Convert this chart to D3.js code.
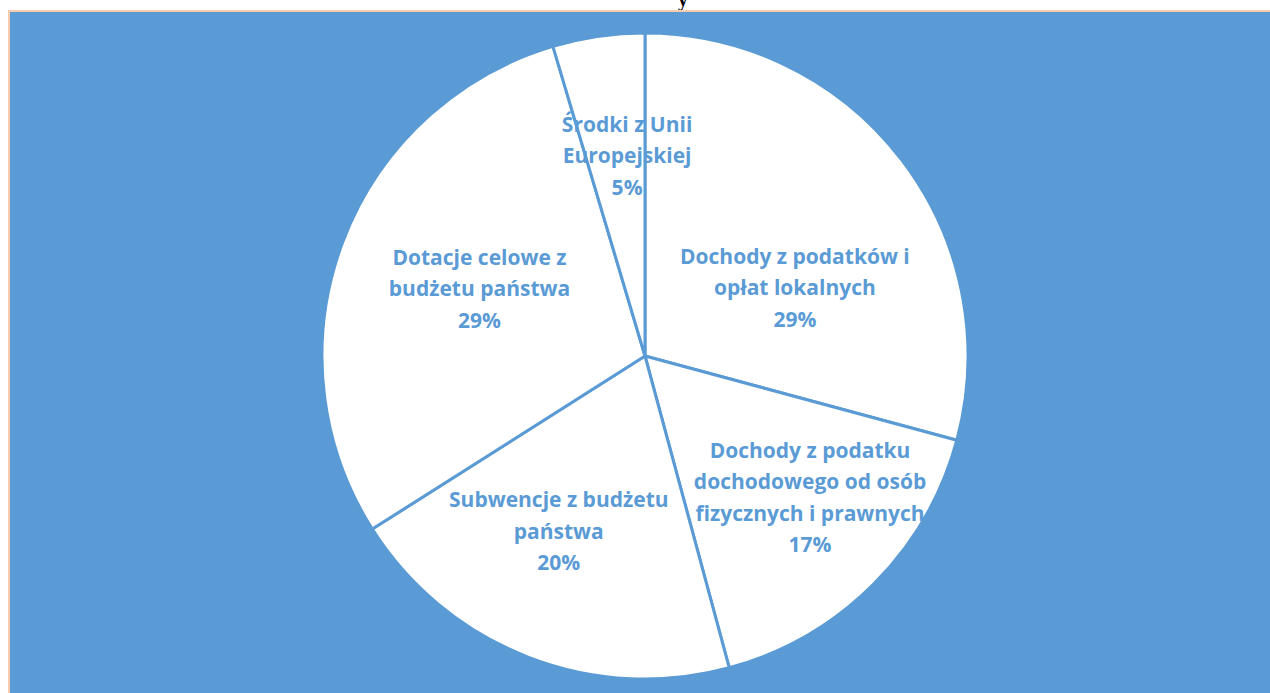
<!DOCTYPE html>
<html>
<head>
<meta charset="utf-8">
<script src="https://cdn.jsdelivr.net/npm/d3@7"></script>
<style>
  body { margin: 0; background: #fff; overflow: hidden; }
</style>
</head>
<body>
<svg width="1270" height="693"></svg>
<script>
// slices clockwise from 12 o'clock
var categories = [
  "Dochody z podatków i|opłat lokalnych",
  "Dochody z podatku|dochodowego od osób|fizycznych i prawnych",
  "Subwencje z budżetu|państwa",
  "Dotacje celowe z|budżetu państwa",
  "Środki z Unii|Europejskiej"
];
var values = [29.2, 16.6, 20.2, 29.4, 4.6];
var percentLabels = ["29%", "17%", "20%", "29%", "5%"];

// label nudges (px) from the arc centroid, like Excel's best fit
var nudges = [[-4, 50], [28, 5], [-16, -5], [16, 1], [10, -8]];

var svg = d3.select("svg"),
    blue = "#5b9bd5",
    cx = 645, cy = 356, r = 323;

// cut-off title above the chart area
svg.append("text")
   .attr("x", 683)
   .attr("y", 6)
   .attr("text-anchor", "middle")
   .attr("font-family", "Liberation Serif")
   .attr("font-weight", "bold")
   .attr("font-size", "20px")
   .attr("fill", "#000")
   .text("y");

svg.append("rect")
   .attr("x", 9)
   .attr("y", 11)
   .attr("width", 1270)
   .attr("height", 700)
   .attr("fill", blue)
   .attr("stroke", "#f8cbad")
   .attr("stroke-width", 2);

var pie = d3.pie().sort(null).value(function(d) { return d; });
var arcs = pie(values);

var arc = d3.arc().innerRadius(0).outerRadius(r);
var labelArc = d3.arc().innerRadius(r * 0.6).outerRadius(r * 0.6);

var g = svg.append("g")
           .attr("transform", "translate(" + cx + "," + cy + ")");

g.selectAll("path")
 .data(arcs)
 .enter().append("path")
 .attr("d", arc)
 .attr("fill", "#fff")
 .attr("stroke", blue)
 .attr("stroke-width", 3)
 .attr("stroke-linejoin", "round");

var labels = g.selectAll(".lbl")
 .data(arcs)
 .enter().append("text")
 .attr("class", "lbl")
 .attr("text-anchor", "middle")
 .attr("font-family", "'Open Sans', Lato, sans-serif")
 .attr("font-weight", "bold")
 .attr("font-size", "21px")
 .attr("fill", blue)
 .attr("transform", function(d, i) {
   var c = labelArc.centroid(d);
   return "translate(" + (c[0] + nudges[i][0]) + "," + (c[1] + nudges[i][1]) + ")";
 });

labels.each(function(d, i) {
  var lines = categories[i].split("|").concat([percentLabels[i]]);
  var lh = 31.5;
  var start = -(lines.length - 1) * lh / 2 + 7;
  var t = d3.select(this);
  lines.forEach(function(line, k) {
    t.append("tspan")
     .attr("x", 0)
     .attr("y", start + k * lh)
     .text(line);
  });
});
</script>
</body>
</html>
